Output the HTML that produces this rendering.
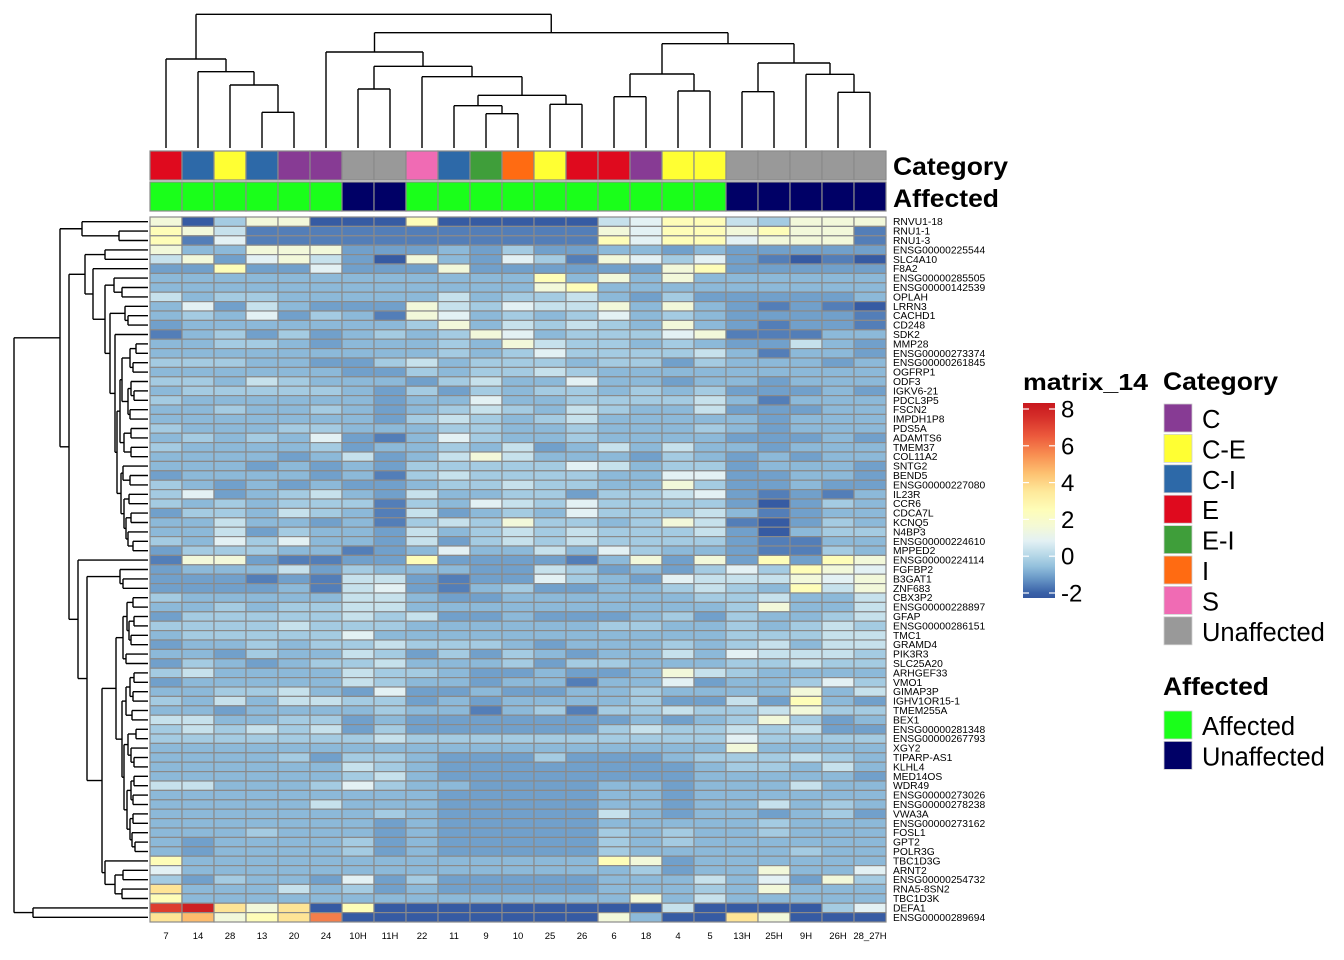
<!DOCTYPE html>
<html><head><meta charset="utf-8">
<style>
body{margin:0;background:#fff;}
svg{display:block;font-family:"Liberation Sans",Arial,sans-serif;}
</style></head>
<body>
<svg id="chart" width="1344" height="960" viewBox="0 0 1344 960" xmlns="http://www.w3.org/2000/svg">
<defs>
<linearGradient id="cbar" x1="0" y1="1" x2="0" y2="0"></linearGradient>
</defs>
<g id="cells"></g>
<g id="annot"></g>
<g id="dendTop"></g>
<g id="dendLeft"></g>
<g id="rowLab"></g>
<g id="colLab"></g>
<text x="893" y="175" font-size="25" font-weight="bold" textLength="115" lengthAdjust="spacingAndGlyphs">Category</text>
<text x="893" y="207" font-size="25" font-weight="bold" textLength="106" lengthAdjust="spacingAndGlyphs">Affected</text>
<g id="legend">
<text x="1023" y="390" font-size="23" font-weight="bold" textLength="125" lengthAdjust="spacingAndGlyphs">matrix_14</text>
<rect x="1023" y="403" width="32" height="195" fill="url(#cbar)"/>
<g id="cbTicks"></g>
<text x="1163" y="390" font-size="25" font-weight="bold" textLength="115" lengthAdjust="spacingAndGlyphs">Category</text>
<g id="catLeg"></g>
<text x="1163" y="695" font-size="25" font-weight="bold" textLength="106" lengthAdjust="spacingAndGlyphs">Affected</text>
<g id="affLeg"></g>
</g>
</svg>
<script>
const colLabels = ['7','14','28','13','20','24','10H','11H','22','11','9','10','25','26','6','18','4','5','13H','25H','9H','26H','28_27H'];
const categories = ['E','C-I','C-E','C-I','C','C','Unaffected','Unaffected','S','C-I','E-I','I','C-E','E','E','C','C-E','C-E','Unaffected','Unaffected','Unaffected','Unaffected','Unaffected'];
const affected = ['Affected','Affected','Affected','Affected','Affected','Affected','Unaffected','Unaffected','Affected','Affected','Affected','Affected','Affected','Affected','Affected','Affected','Affected','Affected','Unaffected','Unaffected','Unaffected','Unaffected','Unaffected'];
const categoryLevels = ['C','C-E','C-I','E','E-I','I','S','Unaffected'];
const categoryColors = ['#873b94','#ffff33','#2d69a8','#df0a1e','#3f9e3a','#ff6b12','#f06bb4','#999999'];
const affectedLevels = ['Affected','Unaffected'];
const affectedColors = ['#1aff1a','#000066'];
const colorTicks = [8,6,4,2,0,-2];
const rowLabels = ['RNVU1-18','RNU1-1','RNU1-3','ENSG00000225544','SLC4A10','F8A2','ENSG00000285505','ENSG00000142539','OPLAH','LRRN3','CACHD1','CD248','SDK2','MMP28','ENSG00000273374','ENSG00000261845','OGFRP1','ODF3','IGKV6-21','PDCL3P5','FSCN2','IMPDH1P8','PDS5A','ADAMTS6','TMEM37','COL11A2','SNTG2','BEND5','ENSG00000227080','IL23R','CCR6','CDCA7L','KCNQ5','N4BP3','ENSG00000224610','MPPED2','ENSG00000224114','FGFBP2','B3GAT1','ZNF683','CBX3P2','ENSG00000228897','GFAP','ENSG00000286151','TMC1','GRAMD4','PIK3R3','SLC25A20','ARHGEF33','VMO1','GIMAP3P','IGHV1OR15-1','TMEM255A','BEX1','ENSG00000281348','ENSG00000267793','XGY2','TIPARP-AS1','KLHL4','MED14OS','WDR49','ENSG00000273026','ENSG00000278238','VWA3A','ENSG00000273162','FOSL1','GPT2','POLR3G','TBC1D3G','ARNT2','ENSG00000254732','RNA5-8SN2','TBC1D3K','DEFA1','ENSG00000289694'];
const values = [
[1.5,-2.2,-0.3,1.5,1.5,-2.2,-2.2,-2.2,2.5,-2.2,-2.2,-2.2,-2.2,-2.2,0.3,0.8,2.5,2.5,0.3,-0.3,1.5,1.5,1.5],
[2.5,1.5,0.3,-1.6,-1.6,-1.6,-1.6,-1.6,-1.6,-1.6,-1.6,-1.6,-1.6,-1.6,1.5,0.8,2.5,2.5,1.5,2.5,1.5,1.5,-1.6],
[2.5,-1.6,0.8,-1.6,-1.6,-1.6,-1.6,-1.6,-1.6,-1.6,-1.6,-1.6,-1.6,-1.6,2.5,0.8,2.5,2.5,0.8,1.5,1.5,1.5,-1.6],
[1.5,-0.7,-0.7,1.5,1.5,1.5,-1.1,-1.1,-1.1,-0.7,-1.1,-0.3,-1.1,-1.1,-0.7,-0.7,-1.1,-0.7,-1.1,-1.1,-1.1,-1.1,-1.1],
[0.3,1.5,-1.1,0.8,1.5,0.3,-1.1,-2.2,1.5,-0.7,-1.1,0.8,-0.3,-1.6,1.5,0.8,-0.3,0.8,-1.1,-1.6,-2.2,-1.6,-2.2],
[-1.1,-1.1,2.5,-1.1,-1.1,0.8,-1.1,-1.1,-1.1,1.5,-1.1,-1.1,-1.1,-1.1,-1.1,-1.1,1.5,2.5,-1.1,-1.1,-1.1,-1.1,-1.1],
[-0.7,-0.7,-0.7,-0.7,-0.7,-0.7,-0.7,-0.7,-0.7,-0.7,-0.7,-0.7,2.5,-0.7,1.5,-0.7,1.5,-0.7,-0.7,-0.7,-0.7,-0.7,-0.7],
[-0.7,-0.7,-0.7,-0.7,-0.7,-0.7,-0.7,-0.7,-0.7,-0.7,-0.7,-0.7,1.5,2.5,-0.7,-0.7,-0.7,-0.7,-0.7,-0.7,-0.7,-0.7,-0.7],
[0.3,-0.7,-0.3,-0.3,-0.7,-0.7,-0.7,-0.7,-0.7,0.3,-0.7,-0.3,-0.3,0.3,-0.7,-1.1,-0.3,-1.1,-1.1,-1.1,-1.1,-1.1,-0.7],
[-0.7,0.8,-1.1,0.3,-0.7,-1.1,-1.1,-1.1,1.5,0.3,-0.3,0.8,0.3,0.3,1.5,-0.7,1.5,-0.7,-1.1,-1.6,-1.1,-1.6,-2.2],
[-0.7,-0.3,-0.7,0.8,-1.1,-0.3,-0.7,-1.6,1.5,0.8,-0.7,-0.3,-0.7,-0.3,0.8,-0.7,-0.3,-0.7,-1.1,-1.1,-1.1,-1.1,-1.6],
[-1.1,-0.7,-0.7,-0.7,-0.7,-0.7,-0.7,-0.7,-0.3,1.5,-0.7,0.3,-0.3,0.3,-0.3,-0.7,1.5,-0.7,-1.1,-1.6,-1.1,-1.1,-1.6],
[-1.6,-0.7,-0.3,-1.1,-0.3,-1.1,-0.7,-0.3,-0.7,-0.3,1.5,0.8,-0.7,-0.3,-0.3,-0.3,0.8,1.5,-1.6,-1.6,-1.6,-0.7,-0.7],
[-0.7,-0.7,-0.3,-0.3,-0.7,-1.1,-0.7,-0.7,-0.7,-0.3,-0.7,1.5,0.3,-0.3,-0.3,-0.7,-0.3,-0.7,-1.1,-1.1,0.3,-0.7,-1.1],
[-0.7,-0.7,-0.7,-0.7,-0.7,-0.7,-0.7,-0.7,-0.7,-0.3,-0.7,-0.3,0.8,-0.3,-0.3,-0.3,-0.3,0.3,-0.7,-1.6,-0.7,-0.7,-1.1],
[-0.3,-0.3,-0.3,-0.7,-0.7,-1.1,-1.1,-0.3,0.3,-0.7,-0.3,-0.3,-0.3,-0.7,-0.3,-0.3,-1.1,-0.3,-0.7,-0.7,-0.7,-1.1,-0.7],
[-0.7,-0.7,-0.7,-0.7,-0.7,-0.7,-1.1,-1.1,-0.3,-0.7,-0.3,-0.3,0.3,-0.3,-0.7,-0.7,-0.7,-0.7,-0.7,-0.7,-0.7,-0.7,-0.7],
[-0.3,-0.3,-0.7,0.3,-0.3,-0.7,-0.7,-0.7,-1.1,-0.3,0.3,-0.7,-0.7,0.8,-0.7,-0.7,-1.1,-0.7,-0.7,-1.1,-0.7,-0.7,-0.7],
[-0.7,-0.3,-0.3,-0.3,-0.3,-0.3,-0.7,-1.1,-0.3,-1.1,-0.3,-0.7,-0.3,-0.3,-0.7,-0.3,-0.7,-0.3,-1.1,-1.1,-1.1,-0.7,-1.1],
[-0.3,-0.7,-0.7,-0.7,-0.7,-0.7,-0.7,-1.1,-0.7,-0.7,0.8,-0.7,-0.7,-0.3,-0.3,-0.3,-0.3,0.3,-0.7,-1.6,-0.7,-0.7,-0.7],
[-0.7,-0.7,-0.3,-0.7,-0.7,-0.3,-0.7,-1.1,-0.7,-0.3,0.3,-0.3,-0.7,0.3,-0.3,-0.7,-0.7,0.3,-1.1,-1.1,-1.1,-0.7,-0.7],
[-0.7,-0.7,-0.7,-0.7,-0.7,-0.7,-0.7,-1.1,-0.3,0.3,-0.3,-0.7,-0.3,0.3,-0.7,-0.7,-0.7,-0.7,-0.7,-1.1,-0.7,-0.7,-0.7],
[-0.3,-0.7,-0.7,-0.7,-0.3,-0.3,-0.7,-0.7,-0.7,-0.3,-0.3,-0.7,-0.7,-0.3,-0.7,-0.7,-0.7,-0.3,-0.7,-1.1,-0.7,-0.7,-0.7],
[-0.7,-0.3,-0.7,-0.3,-0.7,0.8,-1.1,-1.6,-0.7,0.8,-0.3,-0.7,-0.7,-0.3,-0.7,-0.7,-0.7,-0.7,-1.1,-1.1,-1.1,-0.7,-1.1],
[-0.3,-0.7,-0.7,-0.7,-0.7,-0.3,-1.1,-0.7,-0.7,-0.3,-0.7,0.3,-1.1,-0.7,0.3,-0.7,0.3,-0.7,-0.7,-1.1,-0.7,-0.7,-0.7],
[-0.7,-0.7,-0.7,-0.7,-1.1,-0.7,0.3,-1.1,-0.7,0.3,1.5,0.3,-0.7,-0.7,-0.7,-1.1,-0.3,-0.7,-1.1,-0.7,-1.1,-0.7,-0.7],
[-0.7,-0.7,-0.7,-1.1,-0.7,-1.1,-0.7,-1.1,-0.3,-0.3,-0.3,-0.3,-0.3,0.8,0.3,-0.7,-0.3,-0.3,-1.1,-0.7,-0.7,-0.7,-1.1],
[-1.1,-0.7,-0.7,-0.7,-0.7,-1.1,-0.7,-1.6,-0.3,0.3,-0.3,-0.3,-0.3,-0.3,-0.7,-0.7,0.8,0.8,-1.1,-1.1,-0.7,-0.7,-1.1],
[-0.3,-0.7,-1.1,-0.7,-1.1,-0.7,-1.1,-1.1,-0.7,-0.3,-0.3,0.3,-0.3,-0.3,-0.7,-0.7,1.5,-0.3,-1.1,-1.1,-0.7,-1.1,-1.1],
[-0.3,0.8,-1.1,-0.7,-0.3,0.3,-0.7,-1.1,0.3,-0.7,-0.7,-0.3,-0.3,-1.1,-0.3,-0.3,0.3,0.8,-1.1,-1.6,-1.1,-1.6,-0.7],
[-0.3,-0.7,-0.3,-0.7,-0.3,-0.3,-0.3,-1.6,-0.3,-0.7,0.8,0.3,-0.3,0.8,-0.3,-0.3,-0.3,-0.3,-1.1,-2.2,-1.1,-0.3,-0.7],
[-1.1,-0.3,-0.3,-0.7,0.3,-0.3,-0.7,-1.6,0.3,-1.1,-0.7,-0.3,-0.7,0.8,-0.3,-0.3,-0.3,0.3,-0.7,-1.6,-1.1,-0.7,-0.7],
[-0.7,-0.7,0.3,-0.7,-0.7,-1.1,-0.7,-1.6,-0.3,0.3,-0.3,1.5,-0.3,-0.3,-0.7,-0.3,1.5,0.3,-1.6,-2.2,-1.1,-0.3,-0.7],
[-0.7,-0.7,0.3,-1.1,-0.3,-0.7,-0.7,-1.1,0.3,-0.7,-0.3,0.3,-0.3,0.3,-0.3,-0.3,-0.3,0.3,-1.1,-2.2,-0.7,-0.3,-0.3],
[-0.3,-0.7,0.8,-0.3,0.8,-0.7,-0.7,-1.1,0.3,-1.1,-0.3,0.3,-0.3,0.3,-0.3,-0.3,-0.3,-0.3,-1.1,-1.6,-1.6,-0.7,-0.7],
[-1.1,-0.3,-0.3,-0.3,-0.7,-0.7,-1.6,-1.1,-0.7,0.8,-0.7,-0.7,0.3,-0.7,0.8,-0.3,-0.7,-0.7,-1.1,-1.6,-1.6,-0.3,-0.7],
[-1.6,1.5,1.5,-1.1,-1.6,-1.6,-1.1,-1.1,2.5,-1.1,-1.1,-1.1,-1.1,-1.6,-0.7,1.5,-1.1,1.5,-1.1,2.5,-1.1,2.5,1.5],
[-1.1,-0.7,-0.7,-0.7,0.3,-1.1,-0.3,-0.7,-0.7,-0.7,-1.1,-1.1,0.3,-0.3,-1.1,-0.7,-1.1,-0.3,0.8,-0.3,2.5,1.5,0.8],
[-1.1,-1.1,-1.1,-1.6,-1.1,-1.6,0.3,0.3,-1.1,-1.6,-1.1,-1.1,0.8,-0.3,-0.7,-1.1,0.8,0.3,0.3,0.3,1.5,0.8,1.5],
[-1.1,-1.1,-1.1,-1.1,-0.7,-1.6,0.3,0.8,-1.1,-1.6,-0.7,-0.3,-1.1,-1.1,-0.7,-0.7,-0.3,0.3,-0.3,-0.7,2.5,0.3,1.5],
[-0.3,-0.7,-0.7,-0.7,-0.7,-0.7,0.3,0.3,-0.7,-1.1,-1.1,-0.7,-0.7,-0.7,-0.7,-0.7,-0.7,-0.3,-0.3,0.3,-0.7,-0.7,0.3],
[-0.7,-0.7,-0.3,-0.7,-0.3,-0.3,0.3,0.3,-0.7,-0.7,-0.7,-0.7,-0.7,-0.7,-0.7,-0.7,-0.7,-0.7,-0.3,1.5,-0.7,-0.7,0.3],
[-1.1,-0.3,-0.3,-0.3,-0.3,-0.3,0.3,-0.3,0.3,-1.1,-1.1,-0.7,-1.1,-1.1,-1.1,-0.7,-0.3,-1.1,-0.3,-0.7,-0.7,-0.3,0.3],
[-0.3,-0.3,-0.3,-0.3,0.3,-0.3,-0.3,-0.3,-0.7,-0.7,-0.7,-0.7,-0.7,-0.7,-0.3,-0.3,-0.7,-0.7,-0.3,-0.7,-0.3,0.3,-0.3],
[-0.7,-0.3,-0.3,-0.3,-0.3,-0.3,0.8,-0.7,-0.7,-0.7,-0.7,-0.7,-0.7,-0.7,-0.7,-0.7,-0.7,-0.7,-0.3,-0.3,-0.3,0.3,0.3],
[-1.1,-0.7,-0.7,-0.3,-0.7,-0.3,-0.3,0.3,-0.3,-0.3,-0.3,-0.7,-1.1,-0.7,-0.7,-0.7,-0.3,-0.7,-0.3,0.3,-0.7,0.3,0.3],
[-0.7,-0.7,-1.1,-0.3,-0.7,-0.7,0.3,-0.3,-1.1,-0.3,-1.1,-0.3,-0.7,-1.1,-0.7,-0.7,0.3,-0.7,0.8,0.3,0.3,0.3,-0.3],
[-1.1,-0.3,-0.7,-1.1,-0.7,-0.3,-0.3,0.3,-0.7,-0.7,-0.7,-0.3,-1.1,-0.3,-0.3,-0.7,-0.7,-0.7,-0.3,-0.3,0.3,-0.3,-0.3],
[-0.3,0.3,-0.7,-0.7,-0.7,-0.7,0.3,-0.3,-0.3,-0.7,-1.1,-1.1,-0.7,-1.1,-1.1,-0.7,1.5,0.3,-0.3,-0.7,-0.7,-0.7,-0.7],
[-1.1,-0.7,-0.7,-0.7,-0.7,-0.7,0.3,-0.3,-0.7,-0.7,-1.1,-0.7,-0.7,-1.6,-0.7,-0.7,0.8,-1.1,-0.7,-0.7,-0.3,0.8,-0.3],
[-0.7,-0.7,-0.3,-0.3,0.3,-0.7,-1.1,0.8,-1.1,-1.1,-0.7,-1.1,-1.1,-0.7,-0.7,-0.3,-0.7,-0.7,-0.7,-0.7,1.5,-0.7,0.3],
[-0.3,-0.7,0.3,-0.7,0.3,0.3,-0.3,-0.3,-1.1,-0.7,-1.1,-0.7,-0.7,-0.7,-0.7,-0.3,-1.1,-1.1,0.3,-1.1,2.5,-0.7,-1.1],
[-0.7,-0.7,-1.1,-0.7,-0.7,-0.7,-0.7,-0.3,-0.7,-0.7,-1.6,-0.7,-0.3,-1.6,-0.3,-0.3,0.3,-0.3,-0.3,0.3,1.5,-0.3,-0.3],
[0.3,0.3,-0.7,-0.7,-0.3,-0.3,-1.1,-0.7,-1.1,-1.1,-1.1,-1.1,-1.1,-1.1,-1.1,-0.7,-1.1,-0.7,-0.3,1.5,-0.3,-1.1,-0.7],
[-0.3,0.3,-0.3,0.3,-0.3,0.3,-1.1,-0.3,-1.1,-1.1,-1.1,-1.1,-1.1,-1.1,-0.3,0.3,-0.3,-0.3,0.3,-0.3,0.3,-1.1,-1.1],
[-0.3,-0.3,-0.3,-0.3,-0.3,-0.3,-0.3,0.3,-0.3,-0.3,-0.3,-0.3,-0.3,-0.3,-0.3,-0.3,-0.3,-0.3,0.8,-0.3,-0.3,-0.3,-0.3],
[-0.7,-0.7,-0.7,-0.7,-0.7,-0.7,-0.7,-0.7,-0.7,-0.7,-0.7,-0.7,-0.7,-0.7,-0.7,-0.7,-0.7,-0.7,1.5,-0.7,-0.7,-0.7,-0.7],
[-0.7,-0.7,-0.7,-0.7,-0.3,-1.1,-0.3,-0.3,-0.7,-1.1,-1.1,-1.1,-0.3,-1.1,-1.1,-1.1,-0.7,-0.3,-0.3,-0.3,0.3,-0.3,-0.7],
[-0.7,-0.7,-0.7,-0.7,-0.7,-0.7,0.3,-0.3,-0.7,-1.1,-1.1,-1.1,-1.1,-1.1,-1.1,-1.1,-1.1,-0.7,-0.3,-0.3,-0.7,0.3,-0.7],
[-0.7,-0.7,-0.7,-0.7,-0.7,-0.7,-0.3,0.3,-0.7,-1.1,-1.1,-1.1,-1.1,-1.1,-1.1,-1.1,-1.1,-0.7,-0.7,-0.7,-0.7,-0.7,-1.1],
[0.3,0.3,-0.7,-0.7,-0.7,-0.3,0.8,-0.3,-0.7,-0.7,-1.1,-1.1,-1.1,-1.1,-0.7,-0.7,-1.1,-0.7,-0.7,-0.7,0.3,-0.7,-0.7],
[-0.7,-0.7,-0.7,-0.7,-0.7,-0.7,-0.7,-0.7,-0.7,-1.1,-1.1,-1.1,-1.1,-1.1,-0.7,-0.7,-1.1,-0.7,-0.7,-0.7,-0.7,-0.7,-0.7],
[-0.7,-0.7,-0.7,-0.7,-0.7,0.3,-0.7,-0.7,-0.7,-1.1,-1.1,-1.1,-1.1,-1.1,-0.7,-0.7,-1.1,-0.7,-0.7,0.3,-0.7,-0.3,-0.7],
[-0.7,-0.7,-0.7,-0.7,-0.7,-0.7,-0.7,-0.3,-0.7,-1.1,-1.1,-1.1,-1.1,-1.1,0.3,-0.7,-1.1,-0.7,-0.7,-1.1,-0.7,-0.3,-1.1],
[-0.7,-0.7,-0.7,-0.7,-0.7,-0.7,-0.7,-1.1,-0.7,-1.1,-1.1,-1.1,-1.1,-1.1,-0.7,-0.7,-0.7,-0.7,-0.7,-0.3,-0.7,-0.7,-0.7],
[-0.7,-0.7,-0.7,-0.3,-0.7,-0.7,-0.7,-1.1,-0.7,-1.1,-1.1,-1.1,-1.1,-1.1,-0.3,-0.7,-0.3,-0.7,-0.7,-0.3,-0.7,-0.7,-0.7],
[-0.7,-1.1,-0.7,-0.7,-0.7,-0.7,-0.3,-1.1,-0.7,-1.1,-1.1,-1.1,-1.1,-1.1,-0.3,-0.7,-0.3,-0.7,-0.7,-0.7,-0.7,-0.7,-0.7],
[-0.7,-1.1,-0.7,-0.7,-0.7,-0.7,-0.3,-1.1,-0.7,-1.1,-1.1,-1.1,-1.1,-1.1,-0.3,-0.7,-0.7,-0.7,-0.7,-0.7,-0.3,-0.7,-0.7],
[2.5,-0.7,-0.7,-0.7,-0.7,-0.7,-0.7,-0.7,-0.7,-0.7,-0.7,-0.7,-0.7,-0.7,2.5,1.5,-1.1,-0.7,-0.7,-0.7,-0.7,-0.7,-0.7],
[0.8,-0.7,-0.7,-0.7,-0.7,-0.7,-0.7,-0.7,-0.7,-0.7,-0.7,-0.7,-0.7,-0.7,-0.7,-0.3,-1.1,-0.7,-0.7,1.5,-0.7,-0.7,0.8],
[-0.3,-1.1,-0.3,-0.7,-0.7,-1.1,0.8,-1.1,-0.3,-1.1,-1.1,-1.1,-1.1,-1.1,-0.7,-0.7,-0.7,0.3,-0.7,0.8,-1.1,1.5,-0.3],
[3.6,-0.7,-0.7,-0.7,0.3,-0.7,-0.3,-1.1,-0.7,-1.1,-1.1,-1.1,-1.1,-1.1,-0.7,-0.7,-0.7,-0.3,-0.7,1.5,-0.7,-0.7,-0.7],
[2.5,-0.7,-0.7,-0.7,-0.7,-0.7,-0.7,-0.7,-0.7,-0.7,-0.7,-0.7,-0.7,-0.7,-0.7,1.5,-0.7,0.3,-0.7,-0.7,-0.7,-0.7,-0.7],
[7.2,8.0,3.6,1.5,3.6,-2.2,2.5,-2.2,-2.2,-2.2,-2.2,-2.2,-2.2,-2.2,-2.2,-2.2,0.3,-2.2,-2.2,-2.2,-2.2,-0.3,0.8],
[3.6,4.6,1.5,2.5,3.6,5.8,-2.2,-2.2,-2.2,-2.2,-2.2,-2.2,-2.2,-2.2,1.5,-0.7,-2.2,-2.2,3.6,1.5,-2.2,-2.2,-2.2]
];
// dendrogram merge structures: [height, left, right]; leaves are indices
const colTree = [14.3,[59,0,[71.7,1,[85,2,[112.3,3,4]]]],[32.7,[52,5,[66.3,[89,6,7],[76.7,8,[95.3,[105.7,9,[113.7,10,11]],[104.3,12,13]]]]],[43.7,[74,[96.7,14,15],[91,16,17]],[63,[91.7,18,19],[74.3,20,[92.3,21,22]]]]]];
const rowTree = [14,[60,[82,0,[119,1,2]],[69,[85,[105,3,4],[93,5,[105,[114,6,[122,7,8]],[110,[125,9,[128,10,11]],[115,12,[117,[120,[122,[130,[136,13,14],[133,15,16]],[128,[131,17,[134,18,19]],[130,20,21]]],[124,[131,22,23],[131,24,25]]],[121,[123,26,[130,27,28]],[124,[129,29,30],[126,[131,31,32],[128,33,[133,34,35]]]]]]]]]]],[78,36,[87,[120,37,[123,38,39]],[102,[116,[123,[127,[133,40,41],[129,[134,42,43],[131,44,45]]],[126,46,47]],[122,[126,[130,[134,48,49],[133,50,51]],[132,52,53]],[124,[128,[136,54,55],[131,56,[134,57,58]]],[127,[131,[134,59,60],[133,61,62]],[130,[133,63,64],[132,65,[135,66,67]]]]]]],[105,68,[115,[123,69,70],[122,71,72]]]]]]]],[33,73,74]];

const NS='http://www.w3.org/2000/svg';
const X0=150, CW=32, Y0=217, RH=9.4;
function xCol(i){return X0+CW*i;}
function yRow(i){return Y0+RH*i;}
const stops=[[-2.3,'#3457a0'],[-2,'#3a62a8'],[-1.2,'#6b9ac8'],[-0.6,'#92bfdc'],[0,'#b5d7e7'],[0.8,'#e3f1f4'],[1.6,'#f4f9d6'],[2.5,'#fefdb8'],[3.5,'#fee89a'],[4.5,'#fdc070'],[5.5,'#f88e51'],[6.5,'#ec5a3c'],[7.5,'#d6302a'],[8.3,'#c8171e']];
function hex(h){return [1,3,5].map(k=>parseInt(h.substr(k,2),16));}
function colorFor(v){
  if(v<=stops[0][0])return stops[0][1];
  for(let k=1;k<stops.length;k++){
    if(v<=stops[k][0]){
      const a=hex(stops[k-1][1]),b=hex(stops[k][1]);
      const t=(v-stops[k-1][0])/(stops[k][0]-stops[k-1][0]);
      return 'rgb('+a.map((c,j)=>Math.round(c+(b[j]-c)*t)).join(',')+')';
    }
  }
  return stops[stops.length-1][1];
}
function mk(tag,attrs,parent){const e=document.createElementNS(NS,tag);for(const k in attrs)e.setAttribute(k,attrs[k]);parent.appendChild(e);return e;}

const grad=document.getElementById('cbar');
stops.forEach(s=>{mk('stop',{offset:((s[0]+2.3)/10.6*100)+'%','stop-color':s[1]},grad);});

const gCells=document.getElementById('cells');
values.forEach((row,r)=>{row.forEach((v,c)=>{
  const el=mk('rect',{x:xCol(c),y:yRow(r),width:CW,height:RH,fill:colorFor(v),stroke:'#8a8a8a','stroke-width':1.2},gCells);
  
  
});});

const gAnn=document.getElementById('annot');
categories.forEach((cat,c)=>{
  const el=mk('rect',{x:xCol(c),y:151,width:CW,height:29,fill:categoryColors[categoryLevels.indexOf(cat)],stroke:'#8a8a8a','stroke-width':1.2},gAnn);
  
  
});
affected.forEach((a,c)=>{
  const el=mk('rect',{x:xCol(c),y:182,width:CW,height:29,fill:affectedColors[affectedLevels.indexOf(a)],stroke:'#8a8a8a','stroke-width':1.2},gAnn);
  
  
});

const gR=document.getElementById('rowLab');
rowLabels.forEach((t,r)=>{
  const el=mk('text',{x:893,y:yRow(r)+RH/2+3.5,'font-size':10.3},gR);el.textContent=t;
  
  
});
const gC=document.getElementById('colLab');
colLabels.forEach((t,c)=>{
  const el=mk('text',{x:xCol(c)+CW/2,y:939,'font-size':9.5,'text-anchor':'middle'},gC);el.textContent=t;
  
  
});

function line(g,x1,y1,x2,y2){const el=mk('line',{x1,y1,x2,y2,stroke:'#000','stroke-width':1.4},g);
  
  }
const gT=document.getElementById('dendTop');
function drawTop(n){
  if(typeof n==='number')return {x:xCol(n)+CW/2,y:148};
  const a=drawTop(n[1]),b=drawTop(n[2]),h=n[0];
  line(gT,a.x,a.y,a.x,h);line(gT,b.x,b.y,b.x,h);line(gT,a.x,h,b.x,h);
  return {x:(a.x+b.x)/2,y:h};
}
drawTop(colTree);
const gL=document.getElementById('dendLeft');
function drawLeft(n){
  if(typeof n==='number')return {x:148,y:yRow(n)+RH/2};
  const a=drawLeft(n[1]),b=drawLeft(n[2]),h=n[0];
  line(gL,a.x,a.y,h,a.y);line(gL,b.x,b.y,h,b.y);line(gL,h,a.y,h,b.y);
  return {x:h,y:(a.y+b.y)/2};
}
drawLeft(rowTree);

const gTk=document.getElementById('cbTicks');
function yBar(v){return 593-(v+2)*18.4;}
colorTicks.forEach(v=>{
  const y=yBar(v);
  mk('line',{x1:1023,y1:y,x2:1029,y2:y,stroke:'#fff','stroke-width':1.2},gTk);
  mk('line',{x1:1049,y1:y,x2:1055,y2:y,stroke:'#fff','stroke-width':1.2},gTk);
  const t=mk('text',{x:1061,y:y+8.5,'font-size':24},gTk);t.textContent=String(v);
  
  
});

const gCat=document.getElementById('catLeg');
categoryLevels.forEach((lv,k)=>{
  const y=404+k*30.4;
  const r=mk('rect',{x:1164,y:y,width:28,height:28,fill:categoryColors[k],stroke:'#d0d0d0','stroke-width':0.8},gCat);
  
  
  const t=mk('text',{x:1202,y:y+24,'font-size':25.5},gCat);t.textContent=lv;
  
  
});
const gAff=document.getElementById('affLeg');
affectedLevels.forEach((lv,k)=>{
  const y=711+k*30.4;
  const r=mk('rect',{x:1164,y:y,width:28,height:28,fill:affectedColors[k],stroke:'#d0d0d0','stroke-width':0.8},gAff);
  
  
  const t=mk('text',{x:1202,y:y+24,'font-size':25.5},gAff);t.textContent=lv;
  
  
});
</script>
</body></html>
